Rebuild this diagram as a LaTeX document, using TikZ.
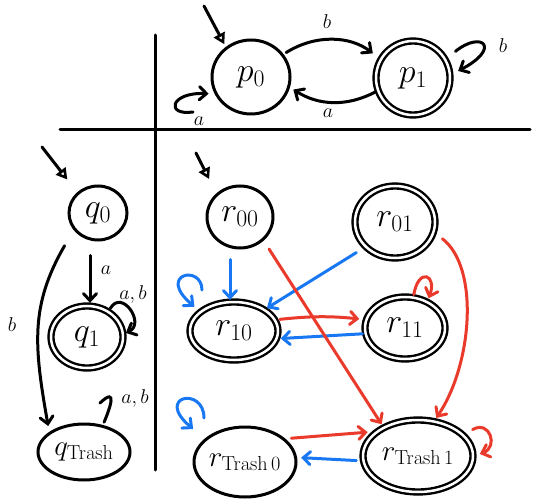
\RequirePackage{fix-cm}
\documentclass[tikz,border=0pt]{standalone}
\usetikzlibrary{arrows.meta,shapes.geometric}

\definecolor{penblue}{RGB}{24,119,242}
\definecolor{penred}{RGB}{234,58,43}

\tikzset{
  state/.style={ellipse, draw, line width=3pt, inner sep=0pt,
    font=\fontsize{34}{36}\selectfont},
  accept/.style={state, double, double distance=2.5pt, line width=2.4pt},
  trashtext/.style={font=\fontsize{29}{31}\selectfont},
  edge/.style={line width=3pt, line cap=round,
    -{Straight Barb[length=7pt,width=13pt,line cap=round]}},
  startarrow/.style={line width=3pt, line cap=round,
    -{Triangle[open,length=11pt,width=12pt,line width=2.6pt]}},
  hook/.style={line width=3pt, line cap=round},
  lbl/.style={font=\fontsize{20}{22}\selectfont, inner sep=1pt},
  divider/.style={line width=3pt, line cap=round}
}

\begin{document}
\begin{tikzpicture}[x=1pt,y=1pt]
\useasboundingbox (0,0) rectangle (537,-502);

% the two dividing strokes
\draw[divider] (155,-35) -- (155,-470);
\draw[divider] (60,-130) -- (530,-130);

% ---- automaton P ----
\node[state, minimum width=78pt, minimum height=74pt] (p0) at (251,-77) {$p_0$};
\node[accept, minimum width=74pt, minimum height=74pt] (p1) at (413,-78) {$p_1$};
\coordinate (p0init) at (204,-6);
\draw[startarrow, shorten >=3pt] (p0init) -- (p0.130);
\draw[edge, shorten <=3pt, shorten >=9pt] (p0.35) to[bend left=35] (p1.150);
\node[lbl] at (327,-22) {$b$};
\draw[edge, shorten <=2pt, shorten >=4pt] (p1.200) to[bend left=30] (p0.-15);
\node[lbl] at (328,-113) {$a$};
\coordinate (p0loop) at (193,-112);
\draw[edge, shorten >=6pt] (p0loop) .. controls (165,-116) and (170,-92) .. (p0.205);
\node[lbl] at (199,-121) {$a$};
\draw[edge, shorten <=12pt, shorten >=8pt] (p1.30) .. controls (482,-30) and (502,-48) .. (p1.5);
\node[lbl] at (503,-46) {$b$};

% ---- automaton Q ----
\node[state, minimum width=58pt, minimum height=54pt] (q0) at (98,-213) {$q_0$};
\node[accept, minimum width=72pt, minimum height=62pt] (q1) at (87,-337) {$q_1$};
\node[state, trashtext, minimum width=92pt, minimum height=56pt] (qT) at (84,-452) {$q_{\mathrm{Trash}}$};
\coordinate (q0init) at (42,-147);
\draw[startarrow, shorten >=16pt] (q0init) -- (q0.135);
\draw[edge, shorten <=14pt, shorten >=2pt] ([xshift=-8pt]q0.south) -- ([xshift=3pt]q1.north);
\node[lbl] at (106,-270) {$a$};
\draw[edge, shorten <=18pt, shorten >=6pt] (q0.215) to[out=240,in=100,looseness=1.1] (qT.150);
\node[lbl] at (12,-325) {$b$};
\draw[edge, shorten <=3pt, shorten >=2pt] (q1.50) to[out=60,in=25,out distance=26pt,in distance=24pt] (q1.5);
\node[lbl] at (133,-294) {$a,b$};
\coordinate (qTloop) at (100,-403);
\draw[hook, shorten <=3pt] (qT.55) .. controls (110,-408) and (118,-386) .. (qTloop);
\node[lbl] at (135,-398) {$a,b$};

% ---- product automaton R ----
\node[state, minimum width=66pt, minimum height=62pt] (r00) at (240,-217) {$r_{00}$};
\node[accept, minimum width=80pt, minimum height=72pt] (r01) at (395,-222) {$r_{01}$};
\node[accept, minimum width=88pt, minimum height=58pt] (r10) at (234,-331) {$r_{10}$};
\node[accept, minimum width=80pt, minimum height=62pt] (r11) at (405,-328) {$r_{11}$};
\node[state, trashtext, minimum width=100pt, minimum height=70pt] (rT0) at (245,-462) {$r_{\mathrm{Trash}\,0}$};
\node[accept, trashtext, minimum width=110pt, minimum height=72pt] (rT1) at (418,-456) {$r_{\mathrm{Trash}\,1}$};
\coordinate (r00init) at (196,-153);
\draw[startarrow, shorten >=16pt] (r00init) -- (r00.135);

% transitions on a (blue)
\begin{scope}[penblue]
\draw[edge, shorten <=10pt, shorten >=1pt] ([xshift=-10pt]r00.south) -- ([xshift=-4pt]r10.north);
\draw[edge, shorten <=10pt, shorten >=2pt] (r01.220) -- (r10.35);
\draw[edge, shorten <=2pt, shorten >=3pt] (r11.188) -- (r10.350);
\draw[edge, shorten <=6pt, shorten >=4pt] (rT1.185) -- (rT0.5);
\coordinate (r10loop) at (202,-290);
\draw[edge, shorten >=7pt] (r10loop) .. controls (202,-264) and (156,-274) .. (r10.150);
\coordinate (rT0loop) at (204,-418);
\draw[edge, shorten >=15pt] (rT0loop) .. controls (204,-386) and (154,-396) .. (rT0.150);
\end{scope}

% transitions on b (red)
\begin{scope}[penred]
\draw[edge, shorten <=4pt, shorten >=6pt] (r10.15) to[bend left=6] (r11.168);
\draw[edge, shorten <=10pt, shorten >=3pt] (r00.-45) -- (rT1.140);
\draw[edge, shorten <=10pt, shorten >=3pt] (r01.-15) .. controls (480,-268) and (472,-365) .. (rT1.65);
\draw[edge, shorten <=6pt, shorten >=8pt] (rT0.30) -- (rT1.150);
\draw[edge, shorten <=2pt, shorten >=3pt] (r11.75) to[out=80,in=70,out distance=30pt,in distance=28pt] (r11.50);
\draw[edge, shorten <=10pt, shorten >=6pt] (rT1.25) to[out=30,in=20,out distance=30pt,in distance=26pt] (rT1.0);
\end{scope}

\end{tikzpicture}
\end{document}
